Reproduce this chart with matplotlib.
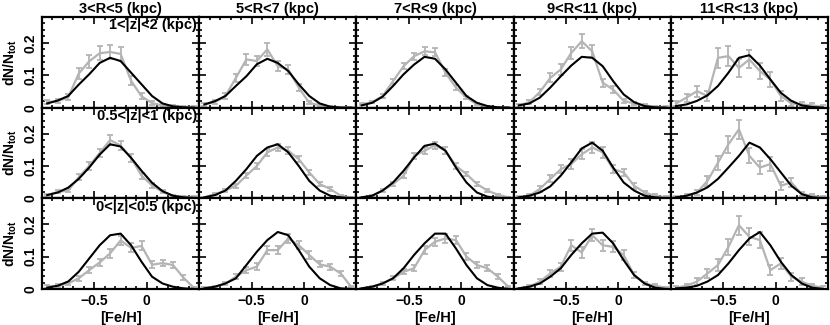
import numpy as np
import matplotlib
matplotlib.use("Agg")
import matplotlib.pyplot as plt
from matplotlib.ticker import MultipleLocator

plt.rcParams['font.family'] = 'Liberation Sans'
plt.rcParams['font.weight'] = 'bold'
plt.rcParams['mathtext.fontset'] = 'custom'
plt.rcParams['mathtext.rm'] = 'Liberation Sans:bold'
plt.rcParams['mathtext.it'] = 'Liberation Sans:bold'
plt.rcParams['mathtext.bf'] = 'Liberation Sans:bold'

# bin centres in [Fe/H]
feh = [-0.95, -0.85, -0.75, -0.65, -0.55, -0.45, -0.35, -0.25,
       -0.15, -0.05, 0.05, 0.15, 0.25, 0.35, 0.45]

r_labels = ['3<R<5 (kpc)', '5<R<7 (kpc)', '7<R<9 (kpc)', '9<R<11 (kpc)', '11<R<13 (kpc)']
z_labels = ['1<|z|<2 (kpc)', '0.5<|z|<1 (kpc)', '0<|z|<0.5 (kpc)']

# observed distributions (grey), one list per R bin
obs_z12 = [
    [0.017, 0.02, 0.032, 0.105, 0.143, 0.168, 0.172, 0.166, 0.083, 0.035, 0.014, 0.007, 0.005, 0.003, 0.002],
    [0.01, 0.017, 0.036, 0.092, 0.149, 0.144, 0.18, 0.128, 0.118, 0.062, 0.015, 0.007, 0.003, 0.002, 0.001],
    [0.01, 0.017, 0.036, 0.082, 0.128, 0.159, 0.174, 0.171, 0.108, 0.062, 0.031, 0.01, 0.003, 0.001, 0.0],
    [0.007, 0.017, 0.048, 0.092, 0.118, 0.169, 0.205, 0.174, 0.077, 0.056, 0.021, 0.013, 0.007, 0.003, 0.002],
    [0.013, 0.031, 0.051, 0.036, 0.154, 0.159, 0.123, 0.149, 0.113, 0.087, 0.036, 0.013, 0.01, 0.007, 0.003],
]
obs_z051 = [
    [0.01, 0.02, 0.024, 0.065, 0.1, 0.14, 0.18, 0.163, 0.125, 0.07, 0.04, 0.02, 0.008, 0.005, 0.004],
    [0.003, 0.013, 0.024, 0.039, 0.07, 0.1, 0.142, 0.157, 0.147, 0.121, 0.08, 0.044, 0.029, 0.008, 0.003],
    [0.003, 0.008, 0.024, 0.044, 0.07, 0.131, 0.147, 0.164, 0.147, 0.1, 0.075, 0.044, 0.024, 0.011, 0.003],
    [0.003, 0.008, 0.029, 0.06, 0.09, 0.106, 0.136, 0.157, 0.142, 0.09, 0.08, 0.039, 0.018, 0.008, 0.003],
    [0.003, 0.008, 0.018, 0.054, 0.11, 0.167, 0.213, 0.131, 0.095, 0.106, 0.039, 0.049, 0.013, 0.008, 0.003],
]
obs_z005 = [
    [0.008, 0.01, 0.017, 0.033, 0.058, 0.082, 0.11, 0.15, 0.127, 0.133, 0.075, 0.08, 0.074, 0.035, 0.003],
    [0.004, 0.007, 0.017, 0.038, 0.058, 0.069, 0.12, 0.12, 0.156, 0.135, 0.105, 0.076, 0.069, 0.048, 0.007],
    [0.002, 0.007, 0.017, 0.033, 0.053, 0.064, 0.12, 0.146, 0.156, 0.151, 0.1, 0.074, 0.064, 0.038, 0.007],
    [0.002, 0.007, 0.023, 0.048, 0.069, 0.135, 0.113, 0.166, 0.135, 0.13, 0.105, 0.043, 0.017, 0.01, 0.004],
    [0.004, 0.01, 0.023, 0.048, 0.074, 0.13, 0.197, 0.161, 0.151, 0.058, 0.079, 0.038, 0.023, 0.01, 0.004],
]

# error bars on the observed points
err_z12 = [
    [0.006, 0.007, 0.009, 0.016, 0.019, 0.021, 0.021, 0.021, 0.014, 0.009, 0.006, 0.004, 0.003, 0.003, 0.002],
    [0.005, 0.006, 0.008, 0.013, 0.016, 0.016, 0.02, 0.015, 0.014, 0.01, 0.005, 0.003, 0.002, 0.001, 0.001],
    [0.003, 0.004, 0.006, 0.008, 0.01, 0.011, 0.012, 0.012, 0.01, 0.007, 0.005, 0.003, 0.002, 0.001, 0.001],
    [0.004, 0.006, 0.01, 0.014, 0.016, 0.019, 0.022, 0.019, 0.013, 0.011, 0.007, 0.005, 0.004, 0.003, 0.002],
    [0.008, 0.012, 0.017, 0.015, 0.03, 0.03, 0.027, 0.028, 0.025, 0.022, 0.014, 0.008, 0.007, 0.006, 0.004],
]
err_z051 = [
    [0.004, 0.005, 0.006, 0.009, 0.011, 0.013, 0.015, 0.014, 0.012, 0.009, 0.007, 0.005, 0.003, 0.003, 0.002],
    [0.002, 0.004, 0.005, 0.006, 0.008, 0.009, 0.011, 0.012, 0.011, 0.01, 0.008, 0.006, 0.005, 0.003, 0.002],
    [0.002, 0.003, 0.005, 0.006, 0.008, 0.01, 0.01, 0.011, 0.01, 0.008, 0.007, 0.006, 0.004, 0.003, 0.002],
    [0.003, 0.004, 0.008, 0.011, 0.013, 0.014, 0.016, 0.017, 0.016, 0.013, 0.012, 0.009, 0.006, 0.004, 0.003],
    [0.004, 0.006, 0.009, 0.015, 0.021, 0.026, 0.03, 0.023, 0.02, 0.021, 0.012, 0.014, 0.007, 0.006, 0.004],
]
err_z005 = [
    [0.004, 0.004, 0.005, 0.007, 0.009, 0.011, 0.013, 0.015, 0.014, 0.014, 0.01, 0.01, 0.01, 0.007, 0.002],
    [0.002, 0.003, 0.005, 0.007, 0.009, 0.01, 0.012, 0.012, 0.013, 0.012, 0.011, 0.009, 0.009, 0.007, 0.003],
    [0.002, 0.003, 0.005, 0.006, 0.008, 0.009, 0.012, 0.013, 0.013, 0.013, 0.011, 0.009, 0.009, 0.007, 0.003],
    [0.002, 0.004, 0.007, 0.01, 0.012, 0.017, 0.016, 0.019, 0.017, 0.017, 0.015, 0.009, 0.006, 0.005, 0.003],
    [0.004, 0.006, 0.01, 0.014, 0.018, 0.024, 0.029, 0.026, 0.025, 0.016, 0.018, 0.012, 0.01, 0.006, 0.004],
]

# model distributions (black)
mod_z12 = [
    [0.013, 0.022, 0.036, 0.071, 0.103, 0.138, 0.154, 0.144, 0.108, 0.072, 0.036, 0.013, 0.004, 0.001, 0.0],
    [0.01, 0.02, 0.036, 0.067, 0.097, 0.134, 0.151, 0.138, 0.113, 0.072, 0.036, 0.013, 0.003, 0.0, 0.0],
    [0.007, 0.015, 0.034, 0.067, 0.103, 0.133, 0.157, 0.151, 0.118, 0.077, 0.036, 0.015, 0.005, 0.001, 0.0],
    [0.007, 0.013, 0.031, 0.062, 0.097, 0.13, 0.157, 0.154, 0.128, 0.082, 0.041, 0.017, 0.005, 0.001, 0.0],
    [0.005, 0.01, 0.021, 0.038, 0.067, 0.108, 0.154, 0.162, 0.13, 0.087, 0.046, 0.021, 0.007, 0.002, 0.0],
]
mod_z051 = [
    [0.01, 0.018, 0.033, 0.06, 0.095, 0.135, 0.167, 0.16, 0.125, 0.085, 0.048, 0.022, 0.008, 0.003, 0.001],
    [0.003, 0.01, 0.024, 0.054, 0.09, 0.131, 0.157, 0.167, 0.142, 0.1, 0.054, 0.024, 0.008, 0.003, 0.0],
    [0.003, 0.008, 0.024, 0.049, 0.085, 0.126, 0.162, 0.169, 0.147, 0.095, 0.049, 0.018, 0.005, 0.001, 0.0],
    [0.003, 0.008, 0.018, 0.037, 0.07, 0.111, 0.154, 0.172, 0.147, 0.095, 0.049, 0.024, 0.008, 0.003, 0.0],
    [0.003, 0.008, 0.018, 0.034, 0.06, 0.095, 0.131, 0.172, 0.157, 0.121, 0.08, 0.039, 0.013, 0.003, 0.0],
]
mod_z005 = [
    [0.004, 0.01, 0.023, 0.053, 0.094, 0.135, 0.166, 0.171, 0.135, 0.084, 0.038, 0.017, 0.007, 0.002, 0.0],
    [0.002, 0.007, 0.017, 0.033, 0.074, 0.115, 0.151, 0.176, 0.166, 0.12, 0.069, 0.033, 0.012, 0.002, 0.0],
    [0.002, 0.007, 0.017, 0.033, 0.064, 0.105, 0.141, 0.171, 0.171, 0.125, 0.074, 0.033, 0.012, 0.004, 0.0],
    [0.002, 0.007, 0.017, 0.038, 0.064, 0.105, 0.141, 0.171, 0.174, 0.141, 0.089, 0.043, 0.017, 0.004, 0.0],
    [0.002, 0.004, 0.01, 0.023, 0.043, 0.079, 0.12, 0.156, 0.176, 0.135, 0.084, 0.043, 0.017, 0.004, 0.0],
]

obs_rows = [obs_z12, obs_z051, obs_z005]
err_rows = [err_z12, err_z051, err_z005]
mod_rows = [mod_z12, mod_z051, mod_z005]

grey = '#b4b4b4'

fig, axes = plt.subplots(3, 5, figsize=(8.3, 3.25), dpi=100, sharex=True, sharey=True)
fig.subplots_adjust(left=0.0506, right=0.9976, top=0.9477, bottom=0.1108, wspace=0, hspace=0)

for i in range(3):
    for j in range(5):
        ax = axes[i, j]
        ax.errorbar(feh, obs_rows[i][j], yerr=err_rows[i][j], color=grey, lw=1.6,
                    elinewidth=1.3, capsize=2.5, capthick=1.3, zorder=2)
        ax.plot(feh, mod_rows[i][j], color='black', lw=1.5, zorder=3)
        ax.set_xlim(-1.0, 0.5)
        ax.set_ylim(0, 0.28)
        ax.xaxis.set_major_locator(MultipleLocator(0.5))
        ax.xaxis.set_minor_locator(MultipleLocator(0.1))
        ax.yaxis.set_major_locator(MultipleLocator(0.1))
        ax.yaxis.set_minor_locator(MultipleLocator(0.02))
        ax.tick_params(which='both', direction='in', top=True, right=True,
                       width=1.2, labelsize=10)
        ax.tick_params(which='major', length=5)
        ax.tick_params(which='minor', length=2.5)
        for s in ax.spines.values():
            s.set_linewidth(1.6)
        ax.set_xticks([-0.5, 0.0])
        ax.set_xticklabels(['\u22120.5', '0'])
        ax.set_yticks([0, 0.1, 0.2])
        ax.set_yticklabels(['0', '0.1', '0.2'])
        for lab in ax.get_yticklabels():
            lab.set_rotation(90)
            lab.set_va('center')
        if i == 0:
            ax.set_title(r_labels[j], fontsize=10.5, fontweight='bold', pad=3)
        if i == 2:
            ax.set_xlabel('[Fe/H]', fontsize=10.5, fontweight='bold', labelpad=2)
        if j == 0:
            ax.set_ylabel(r'dN/N$_{\rm tot}$', fontsize=10, fontweight='bold', labelpad=3)
            ax.text(0.985, 0.985, z_labels[i], transform=ax.transAxes, ha='right', va='top',
                    fontsize=10.5, fontweight='bold')

plt.savefig('out.png', dpi=100)
